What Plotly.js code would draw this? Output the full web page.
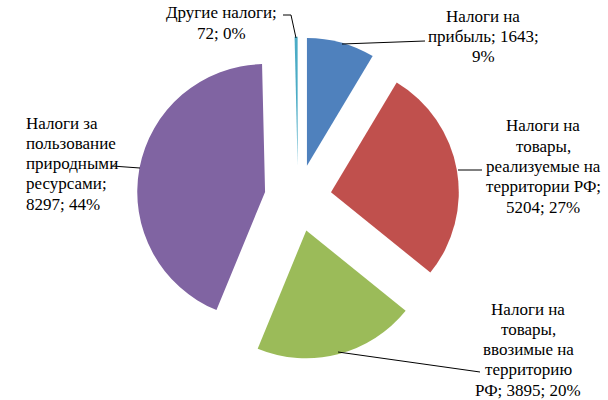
<!DOCTYPE html>
<html>
<head>
<meta charset="utf-8">
<script src="https://cdn.plot.ly/plotly-3.0.1.min.js"></script>
</head>
<body style="margin:0">
<div id="chart"></div>
<script>
// Data
var categories = [
  "Налоги на прибыль",
  "Налоги на товары, реализуемые на территории РФ",
  "Налоги на товары, ввозимые на территорию РФ",
  "Налоги за пользование природными ресурсами",
  "Другие налоги"
];
var values = [1643, 5204, 3895, 8297, 72];
var percents = [9, 27, 20, 44, 0];
var colors = ["#4F81BD", "#C0504D", "#9BBB59", "#8064A2", "#4BACC6"];

// Label lines (wrapped as in the reference)
var labelLines = [
  ["Налоги на", "прибыль; " + values[0] + ";", percents[0] + "%"],
  ["Налоги на", "товары,", "реализуемые на", "территории РФ;", values[1] + "; " + percents[1] + "%"],
  ["Налоги на", "товары,", "ввозимые на", "территорию", "РФ; " + values[2] + "; " + percents[2] + "%"],
  ["Налоги за", "пользование", "природными", "ресурсами;", values[3] + "; " + percents[3] + "%"],
  ["Другие налоги;", values[4] + "; " + percents[4] + "%"]
];

var PW = 608, PH = 400, LS = 20.3;
var FONT = "Liberation Serif";
var labelPos = [
  {x: 483, y: 16, anchor: "center"},
  {x: 543, y: 126, anchor: "center"},
  {x: 528, y: 309, anchor: "center"},
  {x: 24, y: 123, anchor: "left"},
  {x: 221, y: 13, anchor: "center"}
];
// leader line segments: [slice point, label point]
var leaders = [
  [[342, 44], [425, 41]],
  [[458, 170], [482, 170]],
  [[338, 352], [480, 372]],
  [[140, 168], [112, 166]],
  [[296, 38], [291, 15]],
  [[291, 15], [283, 15]]
];

function toPx(x) { return x / PW; }
function toPy(y) { return 1 - y / PH; }

var ann = [];
labelLines.forEach(function (lines, i) {
  lines.forEach(function (t, j) {
    ann.push({
      text: t, xref: "paper", yref: "paper",
      x: toPx(labelPos[i].x), y: toPy(labelPos[i].y + j * LS),
      xanchor: labelPos[i].anchor, yanchor: "middle",
      showarrow: false,
      font: {family: FONT, size: 17, color: "#000"}
    });
  });
});
leaders.forEach(function (seg) {
  ann.push({
    text: "", xref: "paper", yref: "paper",
    x: toPx(seg[0][0]), y: toPy(seg[0][1]),
    ax: seg[1][0] - seg[0][0], ay: seg[1][1] - seg[0][1],
    showarrow: true, arrowhead: 0, arrowwidth: 1, arrowcolor: "#000",
    standoff: 0, startstandoff: 0, borderpad: 0, borderwidth: 0
  });
});

var half = 161.3, cx = 298, cy = 198;
Plotly.newPlot("chart", [{
  type: "pie",
  labels: categories,
  values: values,
  sort: false,
  direction: "clockwise",
  rotation: 0,
  pull: 0.262,
  marker: {colors: colors, line: {width: 0}},
  textinfo: "none",
  domain: {x: [toPx(cx - half), toPx(cx + half)], y: [toPy(cy + half), toPy(cy - half)]}
}], {
  width: PW, height: PH,
  margin: {l: 0, r: 0, t: 0, b: 0},
  showlegend: false,
  font: {family: FONT, size: 17, color: "#000"},
  annotations: ann
}, {displayModeBar: false});
</script>
</body>
</html>
